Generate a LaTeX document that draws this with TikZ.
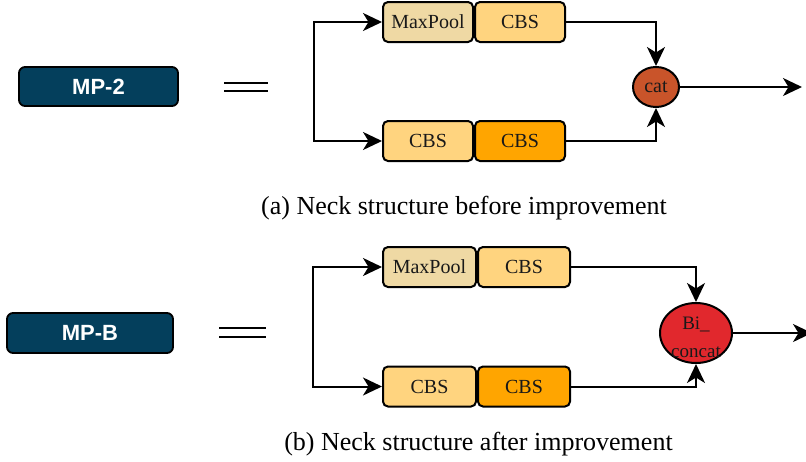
\documentclass[tikz,border=0pt]{standalone}
\usepackage{fontspec}
\setmainfont{Liberation Serif}
\newfontfamily\labelsans{Liberation Sans}
\usetikzlibrary{arrows.meta,shapes.geometric}

\definecolor{mpblue}{HTML}{043F5C}
\definecolor{poolfill}{HTML}{EFD9A4}
\definecolor{cbslight}{HTML}{FFD47F}
\definecolor{cbsdark}{HTML}{FFA500}
\definecolor{catfill}{HTML}{C9542A}
\definecolor{bifill}{HTML}{E1282D}

\tikzset{
  blockbox/.style={draw=black, line width=2pt, rounded corners=5pt,
    minimum height=40pt, inner sep=0pt,
    font=\fontsize{20}{24}\selectfont, text=black!90},
  mpbox/.style={draw=black, line width=1.8pt, rounded corners=6pt,
    fill=mpblue, text=white, inner sep=0pt,
    font=\labelsans\bfseries\fontsize{22}{26}\selectfont},
  joinnode/.style={ellipse, draw=black, line width=2pt, inner sep=0pt,
    text=black!90},
  flow/.style={line width=2pt, -{Stealth[length=19pt,width=18pt,inset=5.5pt]}},
  eqline/.style={line width=2.6pt},
  caption/.style={anchor=base, font=\fontsize{26}{30}\selectfont}
}

\begin{document}
\begin{tikzpicture}[x=1pt, y=-1pt]
\useasboundingbox (0,0) rectangle (806,461);
\clip (0,0) rectangle (806,461);

% ---------- (a) MP-2 ----------
\node[mpbox, minimum width=159pt, minimum height=39pt] (mpa) at (98.5,86.5) {MP-2};
\draw[eqline] (224,83) coordinate (ea1) -- (268,83) coordinate (ea2);
\draw[eqline] (224,91) coordinate (ea3) -- (268,91) coordinate (ea4);

\node[blockbox, fill=poolfill, minimum width=90pt] (poola) at (428,22) {MaxPool};
\node[blockbox, fill=cbslight, minimum width=90pt] (cbsa1) at (520,22) {CBS};
\node[blockbox, fill=cbslight, minimum width=90pt] (cbsa2) at (428,141) {CBS};
\node[blockbox, fill=cbsdark,  minimum width=90pt] (cbsa3) at (520,141) {CBS};

\node[joinnode, fill=catfill, minimum width=46pt, minimum height=40pt,
  font=\fontsize{20}{24}\selectfont] (cat) at (656,87) {cat};

\coordinate (splita) at (314,81.5);
\coordinate (outa) at (802,87);
\draw[flow] (splita) |- (poola.west);
\draw[flow] (splita) |- (cbsa2.west);
\draw[flow] (cbsa1.east) -| (cat.north);
\draw[flow] (cbsa3.east) -| (cat.south);
\draw[flow] (cat.east) -- (outa);

\node[caption] (capa) at (464,214) {(a) Neck structure before improvement};

% ---------- (b) MP-B ----------
\node[mpbox, minimum width=166pt, minimum height=40pt] (mpb) at (90,333) {MP-B};
\draw[eqline] (219,328) coordinate (eb1) -- (266,328) coordinate (eb2);
\draw[eqline] (219,337) coordinate (eb3) -- (266,337) coordinate (eb4);

\node[blockbox, fill=poolfill, minimum width=93pt] (poolb) at (429.5,267) {MaxPool};
\node[blockbox, fill=cbslight, minimum width=92pt] (cbsb1) at (524,267) {CBS};
\node[blockbox, fill=cbslight, minimum width=93pt] (cbsb2) at (429.5,386.5) {CBS};
\node[blockbox, fill=cbsdark,  minimum width=92pt] (cbsb3) at (524,386.5) {CBS};

\node[joinnode, fill=bifill, minimum width=72pt, minimum height=60pt] (bicat) at (696,333) {};
\node[align=center, inner sep=0pt, text=black!90,
  font=\fontsize{19}{28}\selectfont] (bitext) at ([yshift=-4pt]bicat.center) {Bi\_\\concat};

\coordinate (splitb) at (313,326.5);
\coordinate (outb) at (812,333);
\draw[flow] (splitb) |- (poolb.west);
\draw[flow] (splitb) |- (cbsb2.west);
\draw[flow] (cbsb1.east) -| (bicat.north);
\draw[flow] (cbsb3.east) -| (bicat.south);
\draw[flow] (bicat.east) -- (outb);

\node[caption] (capb) at (478.5,450) {(b) Neck structure after improvement};
\end{tikzpicture}
\end{document}
